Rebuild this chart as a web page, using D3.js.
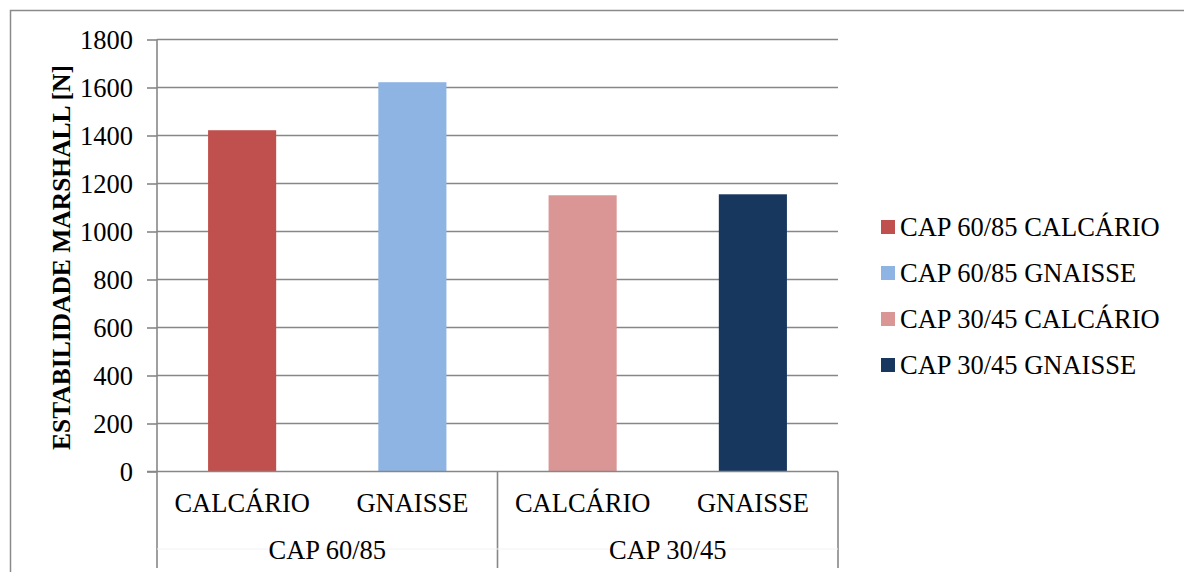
<!DOCTYPE html>
<html>
<head>
<meta charset="utf-8">
<script src="https://cdn.jsdelivr.net/npm/d3@7"></script>
<style>
  body { margin: 0; background: #fff; }
  svg { display: block; }
  text { font-family: "Liberation Serif", "Times New Roman", serif; fill: #000; }
</style>
</head>
<body>
<div id="chart"></div>
<script>
// data
const groups = ["CAP 60/85", "CAP 30/45"]
const materials = ["CALCÁRIO", "GNAISSE"]
const seriesNames = ["CAP 60/85 CALCÁRIO", "CAP 60/85 GNAISSE", "CAP 30/45 CALCÁRIO", "CAP 30/45 GNAISSE"]
const values = [1422, 1622, 1151, 1155]
const colors = ["#C0504D", "#8EB4E3", "#D99694", "#17375E"]
const yTicks = [0, 200, 400, 600, 800, 1000, 1200, 1400, 1600, 1800]

const width = 1184, height = 572
const fontSize = 26.5
const svg = d3.select("#chart").append("svg").attr("width", width).attr("height", height)

// outer frame
svg.append("path")
    .attr("d", "M10.5,572 L10.5,10.5 L1184,10.5")
    .attr("fill", "none").attr("stroke", "#8a8a8a").attr("stroke-width", 1.5)

const plotLeft = 157, plotRight = 838, plotTop = 39.5, plotBottom = 471.5
const gridColor = "#878787"

const rows = []
groups.forEach(function(g, gi){
    materials.forEach(function(m, mi){
        rows.push({"group": g, "mat": m, "key": g + "|" + m, "val": values[gi*2+mi], "color": colors[gi*2+mi]})
    })
})

const x = d3.scaleBand().domain(rows.map(d=>d.key)).range([plotLeft, plotRight]).paddingInner(0.6).paddingOuter(0.3)
const xCat = d3.scaleBand().domain(rows.map(d=>d.key)).range([plotLeft, plotRight])
const y = d3.scaleLinear().domain([0, 1800]).range([plotBottom, plotTop])

// gridlines
svg.append("g").selectAll("line").data(yTicks.filter(t=>t>0)).enter().append("line")
    .attr("x1", plotLeft).attr("x2", plotRight)
    .attr("y1", d=>y(d)).attr("y2", d=>y(d))
    .attr("stroke", gridColor).attr("stroke-width", 1.6)

// y axis
const yAxis = d3.axisLeft(y).tickValues(yTicks).tickSize(10).tickPadding(14).tickFormat(d3.format("d"))
const yG = svg.append("g").attr("transform", `translate(${plotLeft},0)`).call(yAxis)
yG.attr("font-family", null).attr("font-size", null)
yG.select(".domain").remove()
yG.selectAll(".tick line").attr("stroke", gridColor).attr("stroke-width", 1.6)
yG.selectAll(".tick text").attr("font-size", fontSize).attr("dy", "0.34em")

// bars
svg.append("g").selectAll("rect").data(rows).enter().append("rect")
    .attr("x", d=>x(d.key))
    .attr("y", d=>y(d.val))
    .attr("width", x.bandwidth())
    .attr("height", d=>plotBottom - y(d.val))
    .attr("fill", d=>d.color)

// axis lines
svg.append("line").attr("x1", plotLeft).attr("x2", plotLeft).attr("y1", plotTop).attr("y2", 568)
    .attr("stroke", gridColor).attr("stroke-width", 1.6)
svg.append("line").attr("x1", plotLeft - 10).attr("x2", plotRight).attr("y1", plotBottom).attr("y2", plotBottom)
    .attr("stroke", gridColor).attr("stroke-width", 1.6)

// group separators
const groupEdges = [xCat(rows[2].key), plotRight]
svg.append("g").selectAll("line").data(groupEdges).enter().append("line")
    .attr("x1", d=>d).attr("x2", d=>d).attr("y1", plotBottom).attr("y2", 568)
    .attr("stroke", gridColor).attr("stroke-width", 1.6)

// faint level divider
svg.append("line").attr("x1", plotLeft).attr("x2", plotRight).attr("y1", 549).attr("y2", 549)
    .attr("stroke", "#f2f2f2").attr("stroke-width", 1)

// category labels
svg.append("g").selectAll("text").data(rows).enter().append("text")
    .attr("x", d=>xCat(d.key) + xCat.bandwidth()/2)
    .attr("y", 512)
    .attr("text-anchor", "middle").attr("font-size", fontSize)
    .text(d=>d.mat)

svg.append("g").selectAll("text").data(groups).enter().append("text")
    .attr("x", (d,i)=>xCat(rows[i*2].key) + xCat.bandwidth())
    .attr("y", 559)
    .attr("text-anchor", "middle").attr("font-size", fontSize)
    .text(d=>d)

// y title
svg.append("text")
    .attr("transform", `translate(70,${(plotTop+plotBottom)/2 + 2}) rotate(-90)`)
    .attr("text-anchor", "middle").attr("font-size", 25.5).attr("font-weight", "bold")
    .text("ESTABILIDADE MARSHALL [N]")

// legend
const legend = svg.append("g").attr("transform", "translate(881,227)")
const li = legend.selectAll("g").data(seriesNames).enter().append("g")
    .attr("transform", (d,i)=>`translate(0,${i*46})`)
li.append("rect").attr("x", 0).attr("y", -7).attr("width", 14).attr("height", 14)
    .attr("fill", (d,i)=>colors[i])
li.append("text").attr("x", 19).attr("y", 9).attr("font-size", fontSize).text(d=>d)
</script>
</body>
</html>
